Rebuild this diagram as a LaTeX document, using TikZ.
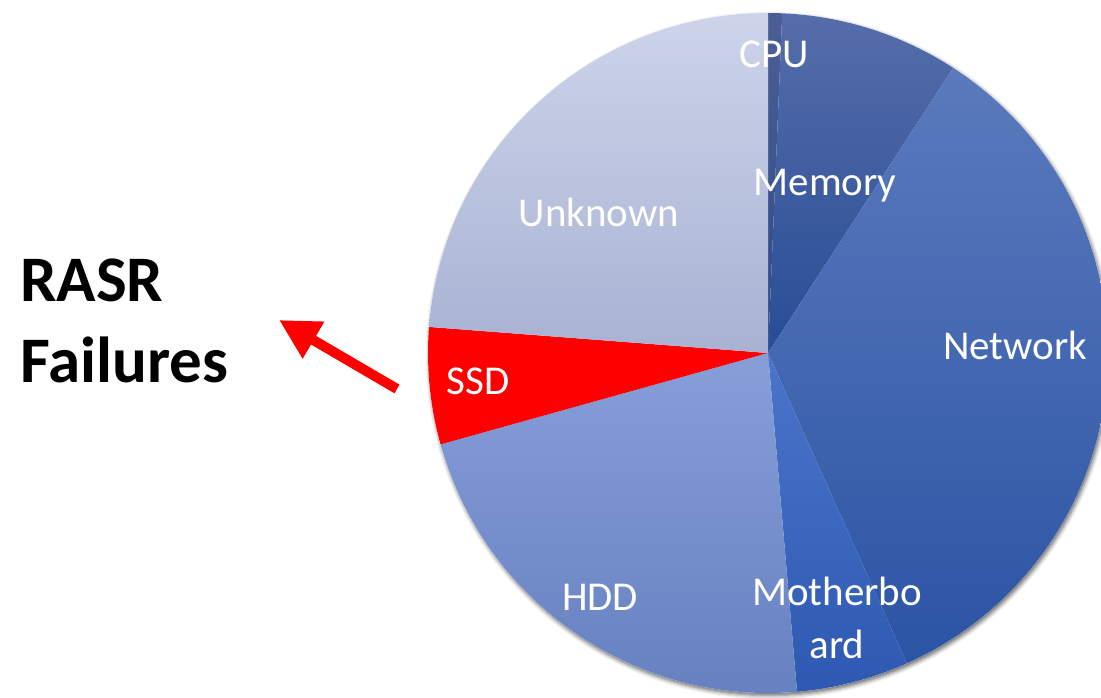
\documentclass[tikz,border=0pt]{standalone}
\usepackage{fontspec}
\setmainfont{Carlito}
\usetikzlibrary{arrows.meta,shadows.blur}

% slice colours (top / bottom of each vertical gradient)
\definecolor{unkTop}{HTML}{CDD4EA}
\definecolor{unkBot}{HTML}{A8B2D3}
\definecolor{cpuTop}{HTML}{4C5E96}
\definecolor{cpuBot}{HTML}{2E4A8A}
\definecolor{memTop}{HTML}{566DAA}
\definecolor{memBot}{HTML}{284D95}
\definecolor{netTop}{HTML}{5B7ABD}
\definecolor{netBot}{HTML}{2B54A4}
\definecolor{mbTop}{HTML}{4A75CA}
\definecolor{mbBot}{HTML}{2D59B2}
\definecolor{hddTop}{HTML}{879ED9}
\definecolor{hddBot}{HTML}{6580C0}
\definecolor{ssdRed}{HTML}{FF0000}

\tikzset{
  slicelabel/.style={text=white, font=\fontsize{41}{48}\selectfont, anchor=base, inner sep=0pt},
  titletext/.style={text=black, font=\fontsize{65}{81}\selectfont\bfseries, anchor=base west, inner sep=0pt},
  pointer/.style={draw=ssdRed, line width=10pt, -{Triangle[length=40pt,width=40pt]}},
}

% #1 start angle, #2 end angle, #3 top colour, #4 bottom colour
\newcommand\pieslice[4]{%
  \path[top color=#3, bottom color=#4, shading angle=0]
    (ctr) -- ++(#1:340) arc[start angle=#1, end angle=#2, radius=340] -- cycle;}

\begin{document}
\begin{tikzpicture}[x=1pt,y=1pt]
  \useasboundingbox (0,0) rectangle (1101,697);
  \clip (0,0) rectangle (1101,697);
  \coordinate (ctr) at (768,344);

  % soft shadow under the whole pie
  \fill[white, blur shadow={shadow xshift=1.5pt, shadow yshift=-2.5pt,
        shadow blur radius=4pt, shadow opacity=60}] (ctr) circle[radius=340];

  % slices, clockwise from twelve o'clock
  \pieslice{90}{87.6}{cpuTop}{cpuBot}
  \pieslice{87.6}{57}{memTop}{memBot}
  \pieslice{57}{-65.9}{netTop}{netBot}
  \pieslice{-65.9}{-85.1}{mbTop}{mbBot}
  \pieslice{-85.1}{-164.4}{hddTop}{hddBot}
  \fill[ssdRed] (ctr) -- ++(195.6:340) arc[start angle=195.6, end angle=175.6, radius=340] -- cycle;
  \pieslice{175.6}{90}{unkTop}{unkBot}

  % slice labels
  \node[slicelabel] (cpu) at (774,629) {CPU};
  \node[slicelabel] (mem) at (825,501) {Memory};
  \node[slicelabel] (unk) at (599,470) {Unknown};
  \node[slicelabel] (net) at (1015,337) {Network};
  \node[slicelabel] (ssd) at (478,302) {SSD};
  \node[slicelabel] (hdd) at (600,87) {HDD};
  \node[slicelabel] (mb1) at (837,92) {Motherbo};
  \node[slicelabel] (mb2) at (837,39) {ard};

  % title and pointer
  \node[titletext] (t1) at (20,395) {RASR};
  \node[titletext] (t2) at (20,314) {Failures};
  \coordinate (ptail) at (397,308);
  \coordinate (ptip) at (279,377);
  \draw[pointer] (ptail) -- (ptip);
\end{tikzpicture}
\end{document}
